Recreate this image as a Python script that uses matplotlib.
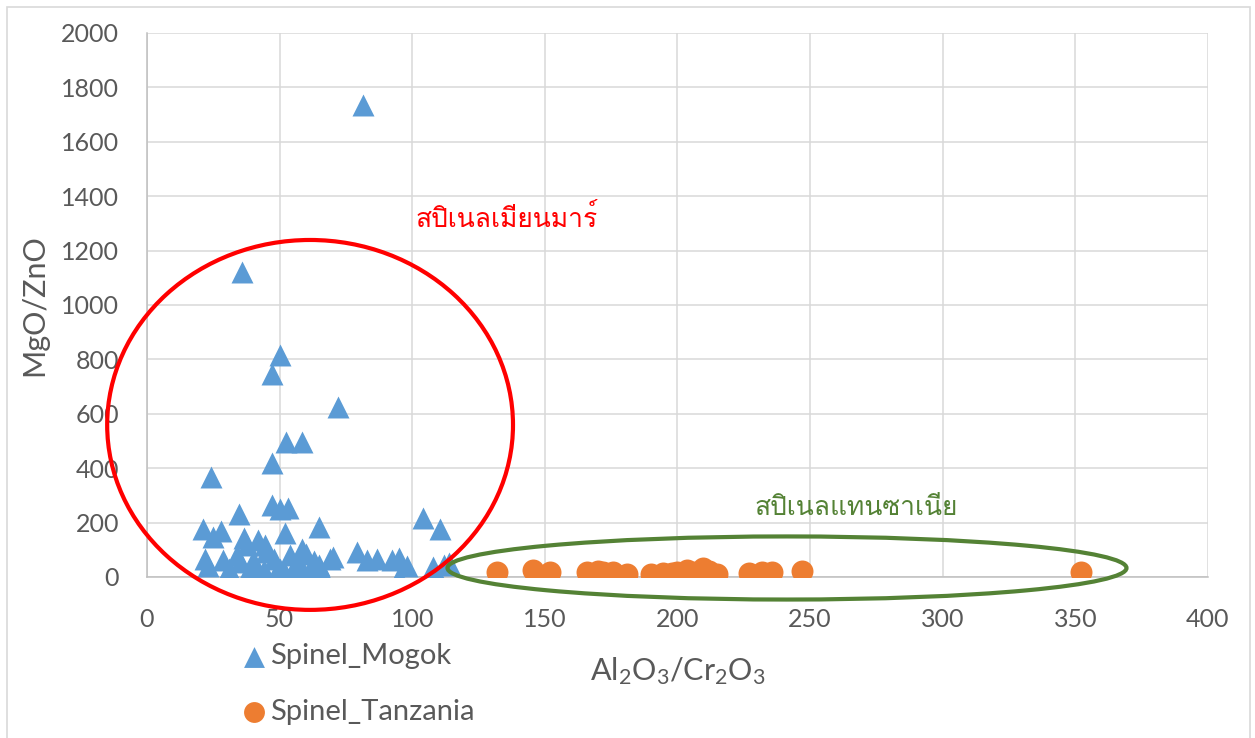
import matplotlib.pyplot as plt
from matplotlib import font_manager
from matplotlib.ft2font import FT2Font
from matplotlib.patches import Ellipse, Rectangle

# Spinel_Mogok: Al2O3/Cr2O3 against MgO/ZnO
mogok_x = [81.5, 36, 50, 47, 72, 52.5, 58.5, 47, 24, 47, 50, 53, 34.7, 65, 104,
           110.5, 21, 25, 28, 36.6, 42, 52, 22, 28.7, 34, 37.7, 45, 40.7, 48, 54,
           79, 83, 86.7, 92.4, 95, 98, 95, 108, 108, 112, 58.4, 69, 65, 44.5, 48,
           54, 60, 56, 62, 23, 31, 38, 44, 50, 57, 60, 66, 70, 114, 52, 40,
           42, 58, 63, 35]
mogok_y = [1735, 1120, 815, 745, 625, 495, 495, 420, 368, 265, 250, 252, 232, 184, 215,
           175, 176, 147, 169, 143, 136, 160, 66, 62, 81, 118, 92, 48, 66, 81,
           92, 62, 65, 64, 70, 40, 0, 0, 37, 44, 103, 66, 44, 118, 0,
           5, 0, 40, 25, 40, 30, 20, 25, 30, 60, 85, 20, 75, 50, 15, 60,
           10, 15, 60, 55]

# Spinel_Tanzania
tanz_x = [132, 145.5, 152, 166, 170, 172, 175.7, 181, 190, 194.5, 198, 200, 203.5,
          206, 209.6, 212, 215, 227, 232, 235.6, 247, 352]
tanz_y = [18, 26, 18, 20, 22, 18, 20, 10, 12, 15, 16, 20, 25,
          18, 32, 22, 12, 14, 18, 18, 22, 18]

x_ticks = [0, 50, 100, 150, 200, 250, 300, 350, 400]
y_ticks = [0, 200, 400, 600, 800, 1000, 1200, 1400, 1600, 1800, 2000]

label_mm = 'สปิเนลเมียนมาร์'
label_tz = 'สปิเนลแทนซาเนีย'


def thai_font():
    # first installed font that has Thai glyphs
    for f in font_manager.fontManager.ttflist:
        try:
            if 0x0E2A in FT2Font(f.fname).get_charmap():
                return f.name
        except Exception:
            pass
    return 'DejaVu Sans'


plt.rcParams['font.family'] = ['Lato', 'DejaVu Sans']
grey = '#595959'

fig = plt.figure(figsize=(12.55, 7.38), dpi=100)
ax = fig.add_axes([0.1171, 0.2182, 0.8454, 0.7371])

# chart frame
fig.patches.append(Rectangle((7 / 1255, -0.1), (1250 - 7) / 1255, 1.1 - 7 / 738,
                             transform=fig.transFigure, fill=False,
                             edgecolor='#D9D9D9', linewidth=1.2))

ax.scatter(mogok_x, mogok_y, marker='^', s=250, color='#5B9BD5',
           linewidths=0, label='Spinel_Mogok', zorder=3)
ax.scatter(tanz_x, tanz_y, marker='o', s=250, color='#ED7D31',
           linewidths=0, label='Spinel_Tanzania', zorder=3)

# group outlines
ax.add_patch(Ellipse((61.5, 559), 153, 1360, fill=False, edgecolor='#FF0000',
                     linewidth=3, clip_on=False, zorder=4))
ax.add_patch(Ellipse((241.3, 33), 256, 232, fill=False, edgecolor='#548235',
                     linewidth=3, clip_on=False, zorder=4))

tf = thai_font()
ax.text(135.5, 1320, label_mm, color='#FF0000', fontsize=19, family=[tf, 'DejaVu Sans'],
        ha='center', va='center')
ax.text(267.3, 254, label_tz, color='#548235', fontsize=19, family=[tf, 'DejaVu Sans'],
        ha='center', va='center')

ax.set_xlim(0, 400)
ax.set_ylim(0, 2000)
ax.set_xticks(x_ticks)
ax.set_yticks(y_ticks)
ax.tick_params(length=0, labelsize=18, labelcolor=grey)
ax.tick_params(axis='y', pad=20)
ax.tick_params(axis='x', pad=22)
ax.grid(color='#D9D9D9', linewidth=1.1)
ax.set_axisbelow(True)
for side in ['top', 'right']:
    ax.spines[side].set_visible(False)
for side in ['left', 'bottom']:
    ax.spines[side].set_color('#BFBFBF')
    ax.spines[side].set_linewidth(1.1)

ax.set_xlabel(r'$\mathregular{Al_2O_3/Cr_2O_3}$', fontsize=22, color=grey, labelpad=18)
ax.set_ylabel('MgO/ZnO', fontsize=22, color=grey, labelpad=9)

ax.legend(loc='upper left', bbox_to_anchor=(0.180, 0.148), bbox_transform=fig.transFigure,
          frameon=False, fontsize=21, labelcolor=grey, handletextpad=0.1,
          labelspacing=1.0, markerscale=0.95, borderpad=0, handlelength=0.9)

fig.savefig('out.png', dpi=100)
